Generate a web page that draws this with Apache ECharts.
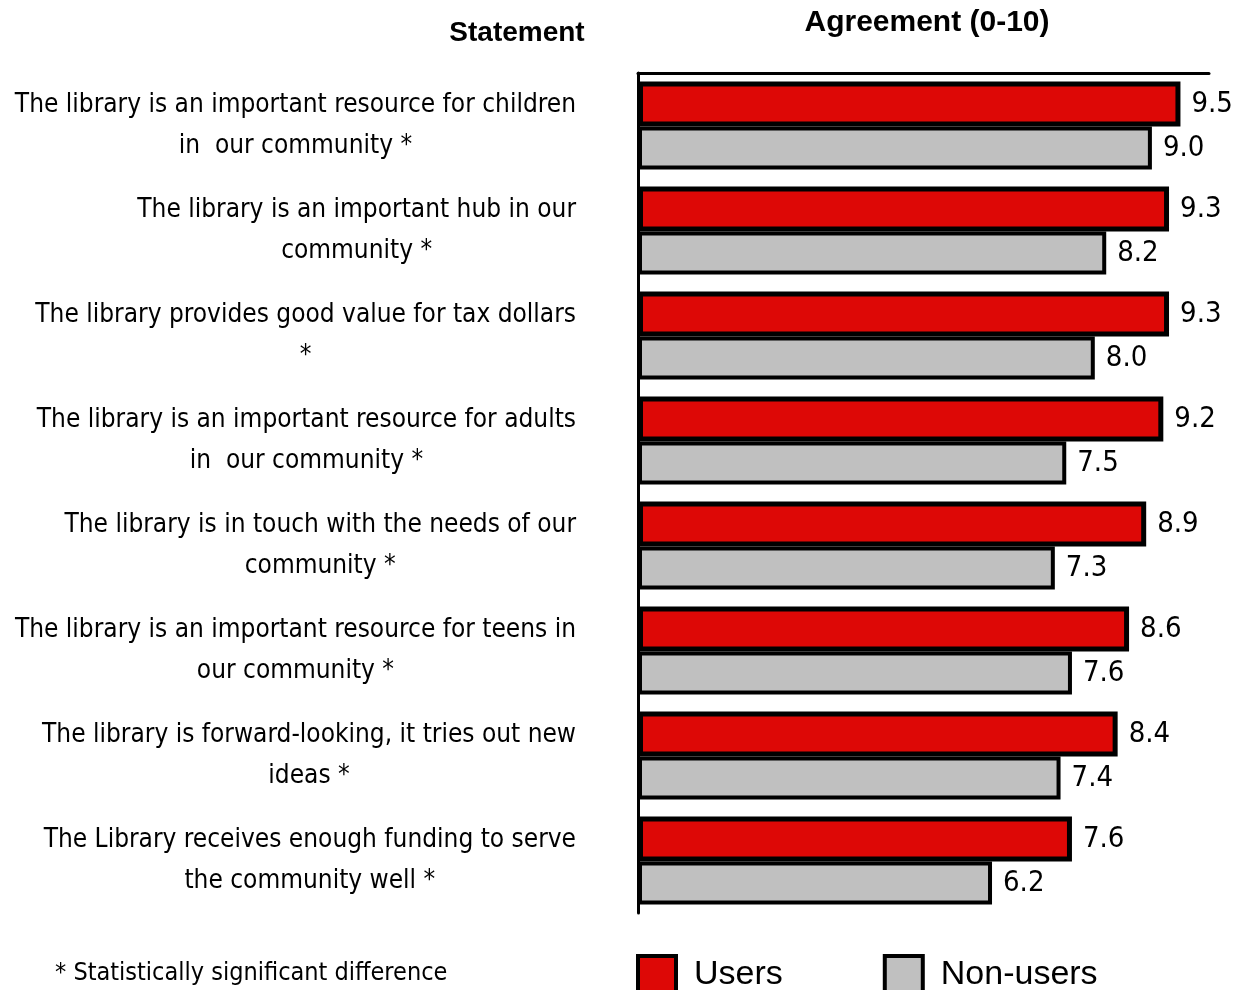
<!DOCTYPE html>
<html>
<head>
<meta charset="utf-8">
<title>Library agreement ratings</title>
<script src="https://cdn.jsdelivr.net/npm/echarts@6/dist/echarts.min.js"></script>
<style>
  html, body { margin: 0; padding: 0; background: #ffffff; }
  #chart { width: 1237px; height: 990px; }
</style>
</head>
<body>
<div id="chart"></div>
<script>
// Statements, top to bottom; each entry holds the label's lines
const statements = [
  ['The library is an important resource for children', 'in  our community *'],
  ['The library is an important hub in our', 'community *'],
  ['The library provides good value for tax dollars', '*'],
  ['The library is an important resource for adults', 'in  our community *'],
  ['The library is in touch with the needs of our', 'community *'],
  ['The library is an important resource for teens in', 'our community *'],
  ['The library is forward-looking, it tries out new', 'ideas *'],
  ['The Library receives enough funding to serve', 'the community well *']
];
const usersScores = [9.5, 9.3, 9.3, 9.2, 8.9, 8.6, 8.4, 7.6];
const nonUsersScores = [9.0, 8.2, 8.0, 7.5, 7.3, 7.6, 7.4, 6.2];
const seriesNames = ['Users', 'Non-users'];
const axisTitle = 'Agreement (0-10)';
const statementTitle = 'Statement';
const footnote = '* Statistically significant difference';

const NARROW = '"DejaVu Sans Condensed", "Liberation Sans Narrow", sans-serif';
const SANS = '"Liberation Sans", Arial, sans-serif';

const chart = echarts.init(document.getElementById('chart'), null, { renderer: 'canvas' });

const categories = statements.map(lines => lines.join('\n'));

const valueLabel = {
  show: true, position: 'right', distance: 11,
  formatter: p => p.value.toFixed(1),
  fontFamily: NARROW, fontSize: 29, color: '#000'
};

chart.setOption({
  animation: false,
  backgroundColor: '#ffffff',
  grid: {
    left: 638, right: 28, top: 73, bottom: 77,
    containLabel: false, outerBoundsMode: 'none'
  },
  xAxis: {
    type: 'value',
    position: 'top',
    min: 0,
    max: 10,
    axisLine: { show: true, lineStyle: { color: '#000', width: 3 } },
    axisTick: { show: false },
    axisLabel: { show: false },
    splitLine: { show: false }
  },
  yAxis: {
    type: 'category',
    inverse: true,
    data: categories,
    axisLine: { show: true, onZero: false, lineStyle: { color: '#000', width: 3 } },
    axisTick: { show: false },
    axisLabel: {
      margin: 62,
      align: 'right',
      verticalAlign: 'middle',
      formatter: function (value) {
        return value.split('\n').map(l => '{c|' + l + '}').join('\n');
      },
      rich: {
        c: { align: 'center', fontFamily: NARROW, fontSize: 26, color: '#000', lineHeight: 41 }
      }
    }
  },
  legend: {
    left: 636,
    top: 954,
    padding: 0,
    itemWidth: 38,
    itemHeight: 38,
    itemGap: 100,
    icon: 'rect',
    itemStyle: { borderColor: '#000', borderWidth: 4 },
    textStyle: { fontFamily: SANS, fontSize: 34, color: '#000', padding: [4, 0, 0, 13] },
    data: seriesNames
  },
  series: [
    {
      name: seriesNames[0],
      type: 'bar',
      data: usersScores,
      barWidth: 45,
      barGap: '0%',
      itemStyle: { color: '#DD0806', borderColor: '#000', borderWidth: 5 },
      label: valueLabel
    },
    {
      name: seriesNames[1],
      type: 'bar',
      data: nonUsersScores,
      barWidth: 43,
      itemStyle: { color: '#C0C0C0', borderColor: '#000', borderWidth: 4 },
      label: valueLabel
    }
  ],
  graphic: [
    {
      type: 'text', x: 927, y: 23,
      style: {
        text: axisTitle, fontFamily: SANS, fontWeight: 'bold', fontSize: 30, fill: '#000',
        align: 'center', verticalAlign: 'middle'
      }
    },
    {
      type: 'text', x: 517, y: 33,
      style: {
        text: statementTitle, fontFamily: SANS, fontWeight: 'bold', fontSize: 28, fill: '#000',
        align: 'center', verticalAlign: 'middle'
      }
    },
    {
      type: 'text', x: 55, y: 973,
      style: {
        text: footnote, fontFamily: NARROW, fontSize: 25, fill: '#000',
        align: 'left', verticalAlign: 'middle'
      }
    }
  ]
});
</script>
</body>
</html>
